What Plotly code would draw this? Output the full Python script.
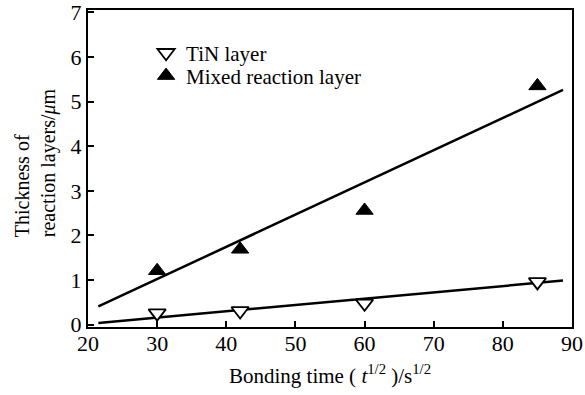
import plotly.graph_objects as go

bond_x = [30, 42, 60, 85]
tin_y = [0.26, 0.31, 0.48, 0.96]
mixed_y = [1.21, 1.69, 2.56, 5.35]
fit_x = [21.5, 88.7]
tin_fit = [0.04, 0.99]
mixed_fit = [0.41, 5.26]
x_ticks = [20, 30, 40, 50, 60, 70, 80, 90]
y_ticks = [0, 1, 2, 3, 4, 5, 6, 7]

FONT = "Liberation Serif"

fig = go.Figure()
fig.add_trace(go.Scatter(x=fit_x, y=mixed_fit, mode="lines",
                         line=dict(color="black", width=2.5), showlegend=False))
fig.add_trace(go.Scatter(x=fit_x, y=tin_fit, mode="lines",
                         line=dict(color="black", width=2.5), showlegend=False))
fig.add_trace(go.Scatter(x=bond_x, y=tin_y, mode="markers", name="TiN layer",
                         legend="legend",
                         marker=dict(symbol="triangle-down", size=15, color="white",
                                     line=dict(color="black", width=1.8))))
fig.add_trace(go.Scatter(x=bond_x, y=mixed_y, mode="markers", name="Mixed reaction layer",
                         legend="legend2",
                         marker=dict(symbol="triangle-up", size=15, color="black",
                                     line=dict(color="black", width=1))))

axis_common = dict(showline=True, linecolor="black", linewidth=2, ticks="inside",
                   ticklen=6, tickwidth=1.5, tickcolor="black", mirror=True,
                   showgrid=False, zeroline=False, automargin=False,
                   ticklabeloverflow="allow",
                   tickfont=dict(family=FONT, size=22, color="black"))

fig.update_xaxes(range=[20, 90], tickvals=x_ticks, ticklabelstandoff=-4,
                 title=dict(text="Bonding time ( <i>t</i><sup>1/2</sup> )/s<sup>1/2</sup>",
                            font=dict(family=FONT, size=21, color="black"), standoff=13),
                 **axis_common)
fig.update_yaxes(range=[-0.05, 7.05], tickvals=y_ticks, **axis_common)

fig.add_annotation(text="Thickness of<br>reaction layers/<i>μ</i>m", textangle=-90,
                   xref="paper", yref="paper", x=-0.108, y=0.519,
                   xanchor="center", yanchor="middle", align="left", showarrow=False,
                   font=dict(family=FONT, size=20, color="black"))

legend_common = dict(xanchor="left", yanchor="middle", bgcolor="rgba(0,0,0,0)",
                     font=dict(family=FONT, size=21, color="black"), itemwidth=30)

fig.update_layout(
    width=585, height=395,
    margin=dict(l=88, r=13, t=10, b=68, autoexpand=False),
    paper_bgcolor="white", plot_bgcolor="white",
    font=dict(family=FONT, color="black"),
    legend=dict(x=0.12, y=0.864, **legend_common),
    legend2=dict(x=0.12, y=0.792, **legend_common),
)

fig.write_html("out.html", config={"displayModeBar": False},
               post_script="document.body.style.margin='0';document.body.style.overflow='hidden';")
